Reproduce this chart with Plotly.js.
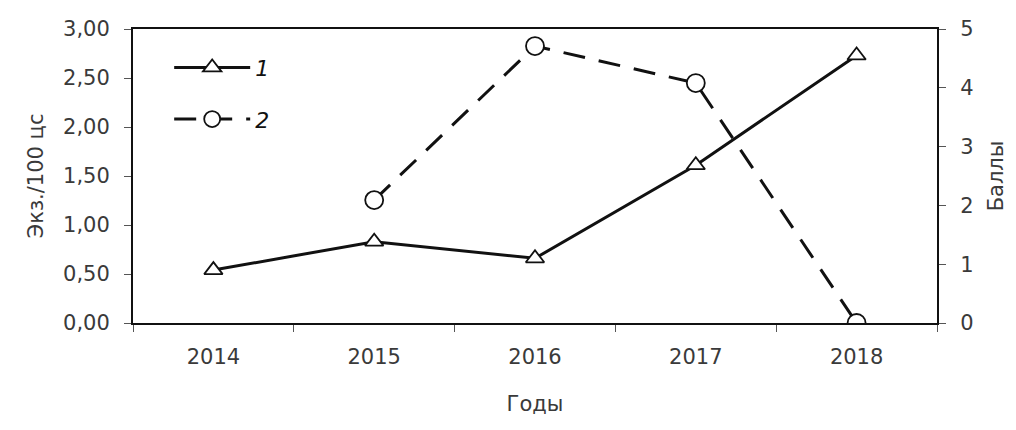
<!DOCTYPE html>
<html>
<head>
<meta charset="utf-8">
<script src="https://cdn.plot.ly/plotly-3.0.1.min.js"></script>
<style>
  body { margin: 0; background: #fff; }
  #graph { width: 1016px; height: 430px; }
</style>
</head>
<body>
<div id="graph"></div>
<script>
var years = ['2014', '2015', '2016', '2017', '2018'];
var series1 = [0.54, 0.83, 0.66, 1.61, 2.73];      // Экз./100 цс
var years2 = ['2015', '2016', '2017', '2018'];
var series2 = [2.09, 4.71, 4.08, 0];               // Баллы
var leftTicks = [0, 0.5, 1, 1.5, 2, 2.5, 3];
var rightTicks = [0, 1, 2, 3, 4, 5];

var ink = '#111';
var txt = '#3a3a3a';
var fnt = 'DejaVu Sans, Verdana, sans-serif';

var trace1 = {
  x: years,
  y: series1,
  name: '1',
  legendgroup: 'a',
  type: 'scatter',
  mode: 'lines+markers',
  line: { color: ink, width: 3 },
  marker: { symbol: 'triangle-up', size: 16, color: '#fff', line: { color: ink, width: 1.8 } },
  yaxis: 'y'
};

var trace2 = {
  x: years2,
  y: series2,
  name: '2',
  legendgroup: 'b',
  type: 'scatter',
  mode: 'lines+markers',
  line: { color: ink, width: 3, dash: '22px,14px' },
  marker: { symbol: 'circle', size: 18, color: '#fff', line: { color: ink, width: 1.8 } },
  yaxis: 'y2'
};

var layout = {
  width: 1016,
  height: 430,
  margin: { l: 133, r: 79, t: 29, b: 107 },
  paper_bgcolor: '#fff',
  plot_bgcolor: '#fff',
  separators: ', ',
  font: { family: fnt, size: 21, color: txt },
  showlegend: true,
  legend: {
    x: 0.045, y: 0.94, xanchor: 'left', yanchor: 'top',
    bgcolor: 'rgba(0,0,0,0)',
    font: { family: fnt, size: 22, color: ink, style: 'italic' },
    itemwidth: 76,
    traceorder: 'grouped',
    tracegroupgap: 20
  },
  xaxis: {
    type: 'category',
    categoryarray: years,
    range: [-0.5, 4.5],
    tickson: 'boundaries',
    ticks: 'outside',
    ticklen: 7,
    tickcolor: '#555',
    ticklabelstandoff: 14,
    showline: true,
    linecolor: ink,
    linewidth: 2,
    mirror: true,
    showgrid: false,
    zeroline: false,
    tickfont: { family: fnt, size: 21, color: txt },
    title: { text: 'Годы', font: { family: fnt, size: 21, color: txt }, standoff: 28 }
  },
  yaxis: {
    range: [0, 3],
    tickvals: leftTicks,
    tickformat: '.2f',
    ticks: 'outside',
    ticklen: 7,
    tickcolor: '#555',
    ticklabelstandoff: 10,
    showline: true,
    linecolor: ink,
    linewidth: 2,
    showgrid: false,
    zeroline: false,
    tickfont: { family: fnt, size: 21, color: txt },
    title: { text: 'Экз./100 цс', font: { family: fnt, size: 21, color: txt }, standoff: 14 }
  },
  yaxis2: {
    overlaying: 'y',
    side: 'right',
    range: [0, 5],
    tickvals: rightTicks,
    ticks: 'outside',
    ticklen: 7,
    tickcolor: '#555',
    ticklabelstandoff: 10,
    showline: true,
    linecolor: ink,
    linewidth: 2,
    showgrid: false,
    zeroline: false,
    tickfont: { family: fnt, size: 21, color: txt },
    title: { text: 'Баллы', font: { family: fnt, size: 21, color: txt }, standoff: 16 }
  }
};

Plotly.newPlot('graph', [trace1, trace2], layout, { displayModeBar: false, staticPlot: true });
</script>
</body>
</html>
